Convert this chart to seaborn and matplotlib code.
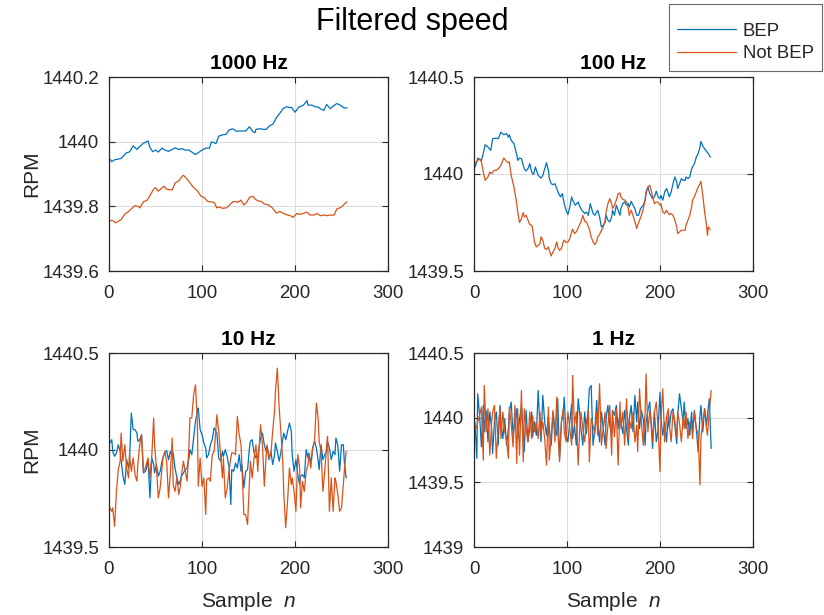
import matplotlib
matplotlib.use("Agg")
import matplotlib.pyplot as plt
from matplotlib.ticker import FuncFormatter, FixedLocator
from matplotlib.lines import Line2D
import seaborn as sns
import pandas as pd

# ---------------- data ----------------
series_labels = ["BEP", "Not BEP"]
panel_titles = ["1000 Hz", "100 Hz", "10 Hz", "1 Hz"]

# 1000 Hz
n_1000_bep = [1, 3, 6, 13, 19, 22, 26, 30, 33, 37, 42, 44, 47, 50, 53, 57, 61, 64, 68, 71,
              75, 79, 82, 86, 89, 93, 97, 100, 104, 108, 110, 113, 115, 118, 122, 126, 129, 133, 137, 140,
              144, 147, 151, 155, 157, 158, 162, 166, 169, 173, 176, 180, 184, 187, 191, 195, 196, 200, 204, 207,
              209, 213, 214, 218, 222, 225, 227, 231, 234, 238, 242, 245, 249, 253, 256]
v_1000_bep = [1439.946, 1439.938, 1439.944, 1439.948, 1439.966, 1439.968, 1439.987, 1439.976, 1439.985, 1439.995,
              1440.002, 1439.982, 1439.969, 1439.974, 1439.968, 1439.980, 1439.973, 1439.970, 1439.976, 1439.981,
              1439.976, 1439.978, 1439.974, 1439.974, 1439.968, 1439.960, 1439.968, 1439.974, 1439.980, 1439.980,
              1439.999, 1439.997, 1439.994, 1440.017, 1440.021, 1440.023, 1440.036, 1440.040, 1440.032, 1440.033,
              1440.033, 1440.033, 1440.046, 1440.030, 1440.028, 1440.038, 1440.040, 1440.038, 1440.038, 1440.050,
              1440.053, 1440.074, 1440.089, 1440.102, 1440.108, 1440.105, 1440.107, 1440.091, 1440.107, 1440.110,
              1440.113, 1440.127, 1440.113, 1440.113, 1440.108, 1440.107, 1440.102, 1440.097, 1440.115, 1440.102,
              1440.112, 1440.118, 1440.112, 1440.104, 1440.105]
n_1000_not = [1, 4, 7, 10, 13, 17, 21, 24, 28, 32, 33, 37, 41, 44, 48, 50, 53, 57, 59, 62,
              66, 68, 71, 75, 79, 80, 84, 88, 91, 95, 99, 102, 106, 109, 113, 116, 118, 122, 126, 129,
              133, 137, 138, 142, 145, 148, 151, 155, 157, 160, 164, 167, 171, 175, 178, 180, 184, 187, 191, 195,
              198, 202, 205, 209, 213, 216, 220, 224, 227, 231, 234, 238, 242, 245, 249, 253, 256]
v_1000_not = [1439.756, 1439.756, 1439.749, 1439.754, 1439.759, 1439.776, 1439.784, 1439.792, 1439.802, 1439.799,
              1439.795, 1439.814, 1439.819, 1439.833, 1439.853, 1439.858, 1439.847, 1439.857, 1439.862, 1439.853,
              1439.851, 1439.851, 1439.872, 1439.879, 1439.894, 1439.896, 1439.884, 1439.869, 1439.858, 1439.848,
              1439.831, 1439.828, 1439.815, 1439.814, 1439.812, 1439.795, 1439.798, 1439.794, 1439.795, 1439.802,
              1439.814, 1439.815, 1439.812, 1439.819, 1439.804, 1439.812, 1439.828, 1439.831, 1439.823, 1439.817,
              1439.815, 1439.807, 1439.805, 1439.797, 1439.787, 1439.779, 1439.784, 1439.779, 1439.774, 1439.771,
              1439.766, 1439.778, 1439.775, 1439.778, 1439.782, 1439.773, 1439.773, 1439.778, 1439.771, 1439.773,
              1439.771, 1439.773, 1439.773, 1439.792, 1439.796, 1439.807, 1439.814]

# 100 Hz
n_100_bep = [1, 3, 4, 6, 8, 10, 12, 15, 18, 20, 24, 26, 29, 32, 35, 37, 38, 40, 43, 46,
             47, 49, 51, 54, 56, 58, 60, 62, 64, 66, 69, 72, 74, 76, 78, 80, 81, 83, 85, 87,
             89, 91, 93, 95, 97, 99, 101, 103, 105, 106, 109, 112, 114, 116, 119, 121, 123, 125, 128, 130,
             133, 135, 137, 139, 141, 142, 144, 146, 148, 149, 151, 153, 155, 157, 158, 160, 162, 164, 166, 167,
             169, 171, 173, 175, 177, 179, 182, 184, 185, 187, 189, 191, 192, 194, 196, 198, 200, 201, 203, 205,
             207, 209, 210, 212, 214, 216, 218, 219, 221, 223, 225, 227, 228, 230, 232, 234, 235, 237, 239, 241,
             243, 244, 246, 248, 250, 252, 254]
v_100_bep = [1440.036, 1440.062, 1440.082, 1440.075, 1440.070, 1440.105, 1440.151, 1440.139, 1440.122, 1440.182,
             1440.185, 1440.182, 1440.216, 1440.202, 1440.208, 1440.190, 1440.202, 1440.173, 1440.156, 1440.099,
             1440.070, 1440.082, 1440.079, 1440.027, 1440.015, 1440.027, 1440.053, 1440.010, 1439.997, 1440.036,
             1439.993, 1439.979, 1439.993, 1440.027, 1440.058, 1440.019, 1439.976, 1439.950, 1439.945, 1439.950,
             1439.925, 1439.899, 1439.882, 1439.899, 1439.847, 1439.813, 1439.791, 1439.830, 1439.882, 1439.865,
             1439.839, 1439.856, 1439.830, 1439.813, 1439.796, 1439.804, 1439.787, 1439.847, 1439.796, 1439.787,
             1439.813, 1439.779, 1439.727, 1439.736, 1439.750, 1439.787, 1439.762, 1439.753, 1439.779, 1439.813,
             1439.787, 1439.839, 1439.813, 1439.787, 1439.822, 1439.847, 1439.856, 1439.839, 1439.847, 1439.830,
             1439.859, 1439.839, 1439.822, 1439.787, 1439.787, 1439.822, 1439.839, 1439.865, 1439.907, 1439.933,
             1439.899, 1439.882, 1439.873, 1439.882, 1439.911, 1439.882, 1439.873, 1439.890, 1439.865, 1439.907,
             1439.925, 1439.899, 1439.882, 1439.907, 1439.950, 1439.985, 1439.959, 1439.925, 1439.950, 1439.976,
             1439.967, 1439.967, 1439.985, 1439.976, 1439.985, 1440.027, 1440.036, 1440.053, 1440.087, 1440.105,
             1440.139, 1440.168, 1440.144, 1440.130, 1440.117, 1440.105, 1440.087]
n_100_not = [1, 3, 4, 6, 8, 10, 12, 15, 17, 19, 22, 24, 26, 29, 32, 35, 37, 38, 40, 43,
             46, 47, 49, 51, 53, 54, 56, 58, 60, 62, 63, 65, 67, 69, 71, 72, 74, 76, 78, 80,
             81, 83, 85, 87, 89, 90, 92, 94, 96, 97, 99, 101, 103, 105, 106, 108, 110, 112, 114, 115,
             117, 119, 121, 123, 124, 126, 128, 130, 132, 133, 135, 137, 139, 141, 142, 144, 146, 148, 149, 151,
             153, 155, 157, 158, 160, 162, 164, 166, 167, 169, 171, 173, 175, 176, 178, 180, 182, 184, 185, 187,
             189, 191, 192, 194, 196, 198, 200, 201, 203, 205, 207, 209, 210, 212, 214, 216, 218, 219, 221, 223,
             225, 227, 228, 230, 232, 234, 235, 237, 239, 241, 243, 244, 246, 248, 250, 251, 252, 254]
v_100_not = [1440.053, 1440.065, 1440.070, 1440.079, 1440.062, 1440.010, 1439.967, 1439.985, 1440.010, 1440.002,
             1440.019, 1440.019, 1440.027, 1440.045, 1440.082, 1440.065, 1440.058, 1440.062, 1439.993, 1439.933,
             1439.847, 1439.804, 1439.750, 1439.770, 1439.801, 1439.779, 1439.787, 1439.762, 1439.739, 1439.736,
             1439.719, 1439.650, 1439.624, 1439.633, 1439.642, 1439.676, 1439.659, 1439.616, 1439.611, 1439.624,
             1439.607, 1439.578, 1439.599, 1439.616, 1439.650, 1439.624, 1439.607, 1439.616, 1439.650, 1439.659,
             1439.647, 1439.650, 1439.667, 1439.702, 1439.715, 1439.693, 1439.702, 1439.722, 1439.744, 1439.753,
             1439.787, 1439.756, 1439.753, 1439.727, 1439.715, 1439.676, 1439.650, 1439.636, 1439.654, 1439.676,
             1439.688, 1439.710, 1439.727, 1439.762, 1439.804, 1439.847, 1439.873, 1439.847, 1439.822, 1439.839,
             1439.865, 1439.899, 1439.902, 1439.882, 1439.870, 1439.865, 1439.856, 1439.822, 1439.787, 1439.813,
             1439.787, 1439.753, 1439.719, 1439.736, 1439.762, 1439.787, 1439.822, 1439.865, 1439.899, 1439.933,
             1439.942, 1439.907, 1439.882, 1439.847, 1439.856, 1439.853, 1439.839, 1439.847, 1439.804, 1439.796,
             1439.813, 1439.796, 1439.791, 1439.796, 1439.787, 1439.762, 1439.727, 1439.693, 1439.702, 1439.710,
             1439.710, 1439.710, 1439.736, 1439.762, 1439.787, 1439.830, 1439.865, 1439.882, 1439.907, 1439.933,
             1439.950, 1439.962, 1439.890, 1439.804, 1439.736, 1439.684, 1439.727, 1439.715]

# 10 Hz
n_10 = [1, 3, 4, 6, 8, 10, 12, 13, 15, 17, 19, 21, 22, 24, 26, 28, 30, 31, 33, 35,
        37, 39, 40, 42, 44, 46, 48, 49, 51, 53, 55, 57, 58, 60, 62, 64, 66, 68, 69, 71,
        73, 75, 77, 78, 80, 82, 84, 86, 87, 89, 91, 93, 95, 96, 98, 100, 102, 104, 105, 107,
        109, 111, 113, 114, 116, 118, 120, 122, 123, 125, 127, 129, 131, 132, 134, 136, 138, 140, 142, 143,
        145, 147, 149, 151, 152, 154, 156, 158, 160, 161, 163, 165, 167, 169, 170, 172, 174, 176, 178, 179,
        181, 183, 185, 187, 188, 190, 192, 194, 196, 197, 199, 201, 203, 205, 206, 208, 210, 212, 214, 215,
        217, 219, 221, 223, 225, 226, 228, 230, 232, 234, 235, 237, 239, 241, 243, 244, 246, 248, 250, 252,
        253, 255]
v_10_bep = [1440.036, 1440.053, 1439.993, 1439.967, 1439.985, 1440.027, 1439.993, 1439.950, 1439.865, 1439.822,
            1439.950, 1439.907, 1439.942, 1440.190, 1440.105, 1440.105, 1440.087, 1440.045, 1440.053, 1440.079,
            1439.882, 1439.890, 1439.899, 1439.950, 1439.753, 1439.959, 1439.925, 1439.882, 1439.925, 1439.865,
            1439.890, 1439.942, 1439.959, 1439.985, 1439.997, 1439.950, 1439.993, 1439.967, 1439.985, 1439.907,
            1439.856, 1439.822, 1439.847, 1439.865, 1439.882, 1439.899, 1439.907, 1439.959, 1440.002, 1439.976,
            1440.062, 1440.147, 1440.199, 1440.216, 1440.105, 1440.079, 1440.036, 1440.010, 1439.959, 1439.976,
            1440.027, 1440.053, 1440.113, 1440.105, 1440.087, 1439.959, 1439.942, 1439.993, 1439.967, 1440.002,
            1439.967, 1439.916, 1439.719, 1439.899, 1439.890, 1439.933, 1439.907, 1439.976, 1439.890, 1439.925,
            1439.804, 1439.890, 1439.899, 1440.010, 1440.045, 1440.053, 1439.985, 1439.959, 1439.967, 1440.002,
            1440.062, 1440.087, 1440.027, 1439.993, 1440.019, 1439.950, 1439.993, 1439.925, 1439.976, 1440.036,
            1439.993, 1439.942, 1439.993, 1440.062, 1440.087, 1440.053, 1440.096, 1440.139, 1440.096, 1439.976,
            1439.890, 1439.950, 1439.873, 1439.822, 1439.865, 1439.873, 1439.856, 1440.002, 1439.959, 1439.985,
            1439.933, 1440.010, 1440.045, 1440.010, 1439.942, 1439.899, 1440.027, 1439.950, 1439.976, 1439.993,
            1440.045, 1440.010, 1439.950, 1439.993, 1439.976, 1440.062, 1440.027, 1439.890, 1440.027, 1440.027,
            1439.942, 1439.856]
v_10_not = [1439.702, 1439.684, 1439.702, 1439.607, 1439.787, 1439.899, 1439.942, 1440.087, 1439.942, 1440.027,
            1439.907, 1439.856, 1439.976, 1439.890, 1439.959, 1439.873, 1439.839, 1439.925, 1440.027, 1440.079,
            1439.890, 1439.907, 1439.925, 1439.959, 1439.856, 1439.967, 1440.165, 1440.027, 1439.907, 1439.753,
            1439.804, 1439.907, 1439.959, 1439.993, 1439.942, 1439.753, 1439.882, 1440.062, 1439.822, 1439.787,
            1439.856, 1439.770, 1439.822, 1439.873, 1439.942, 1439.890, 1439.839, 1440.027, 1440.165, 1440.165,
            1440.285, 1440.336, 1440.147, 1439.813, 1439.959, 1439.813, 1439.856, 1439.667, 1439.847, 1439.856,
            1439.839, 1439.976, 1439.993, 1440.045, 1440.182, 1440.096, 1439.976, 1439.856, 1439.959, 1439.753,
            1439.804, 1439.890, 1439.959, 1439.985, 1439.985, 1439.976, 1440.173, 1440.079, 1440.027, 1439.907,
            1439.667, 1439.667, 1439.616, 1439.839, 1439.942, 1439.856, 1439.959, 1440.027, 1439.890, 1439.976,
            1440.130, 1440.027, 1439.813, 1439.976, 1440.027, 1439.959, 1439.976, 1440.096, 1440.199, 1440.302,
            1440.422, 1440.216, 1440.079, 1439.925, 1439.770, 1439.599, 1439.736, 1439.907, 1439.822, 1439.856,
            1439.787, 1439.684, 1439.976, 1439.907, 1439.702, 1439.839, 1439.787, 1439.890, 1439.925, 1439.976,
            1439.907, 1440.010, 1440.045, 1440.242, 1440.156, 1440.045, 1439.993, 1439.787, 1439.890, 1440.027,
            1440.070, 1439.684, 1439.856, 1439.684, 1439.856, 1439.839, 1439.770, 1439.684, 1439.702, 1439.822,
            1439.890, 1439.993]

# 1 Hz
n_1 = [1, 3, 4, 6, 8, 10, 11, 13, 15, 17, 19, 20, 22, 24, 26, 28, 29, 31, 33, 35,
       37, 38, 40, 42, 44, 46, 47, 49, 51, 53, 54, 56, 58, 60, 62, 63, 65, 67, 69, 71,
       72, 74, 76, 78, 80, 81, 83, 85, 87, 89, 90, 92, 94, 96, 97, 99, 101, 103, 105, 106,
       108, 110, 112, 114, 115, 117, 119, 121, 123, 124, 126, 128, 130, 132, 133, 135, 137, 139, 141, 142,
       144, 146, 148, 149, 151, 153, 155, 157, 158, 160, 162, 164, 166, 167, 169, 171, 173, 175, 176, 178,
       180, 182, 184, 185, 187, 189, 191, 192, 194, 196, 198, 200, 201, 203, 205, 207, 209, 210, 212, 214,
       216, 218, 219, 221, 223, 225, 226, 228, 230, 232, 234, 235, 237, 239, 241, 243, 244, 246, 248, 250,
       251, 253, 255]
v_1_bep = [1439.967, 1439.685, 1440.185, 1440.018, 1439.774, 1440.095, 1439.890, 1440.056, 1439.813, 1440.044,
           1439.915, 1439.723, 1439.967, 1440.044, 1439.787, 1440.095, 1439.954, 1439.838, 1439.992, 1439.787,
           1439.915, 1440.044, 1440.121, 1439.864, 1439.967, 1440.069, 1439.838, 1439.992, 1440.082, 1439.890,
           1439.736, 1440.056, 1439.813, 1439.915, 1440.044, 1439.851, 1439.967, 1439.864, 1440.210, 1439.915,
           1439.813, 1440.172, 1439.967, 1439.864, 1440.018, 1439.915, 1439.787, 1440.044, 1439.915, 1439.864,
           1440.146, 1439.685, 1439.967, 1440.044, 1440.159, 1439.864, 1439.813, 1439.967, 1440.108, 1439.838,
           1439.941, 1439.787, 1440.146, 1440.005, 1439.915, 1439.787, 1440.044, 1439.877, 1440.095, 1440.223,
           1440.249, 1439.787, 1439.915, 1440.133, 1439.967, 1439.813, 1440.044, 1439.915, 1439.787, 1439.992,
           1440.095, 1439.941, 1439.864, 1440.056, 1440.018, 1440.095, 1439.915, 1440.044, 1439.967, 1439.877,
           1440.056, 1439.915, 1439.787, 1439.992, 1440.095, 1439.890, 1440.172, 1439.967, 1440.121, 1439.915,
           1440.056, 1439.992, 1439.787, 1439.967, 1440.056, 1440.121, 1439.890, 1439.762, 1440.044, 1439.813,
           1439.915, 1440.197, 1439.992, 1439.864, 1439.967, 1439.813, 1440.031, 1439.915, 1440.044, 1440.069,
           1439.941, 1439.800, 1440.018, 1440.185, 1440.069, 1439.967, 1440.121, 1439.915, 1439.992, 1439.864,
           1440.044, 1439.890, 1440.056, 1439.915, 1439.736, 1440.018, 1440.095, 1439.890, 1440.069, 1439.941,
           1440.018, 1440.146, 1439.762]
v_1_not = [1439.941, 1439.915, 1439.967, 1440.018, 1440.082, 1439.672, 1440.249, 1439.890, 1440.069, 1439.710,
           1439.967, 1440.044, 1440.095, 1439.685, 1439.915, 1440.082, 1439.838, 1440.044, 1439.890, 1439.826,
           1439.685, 1440.082, 1439.954, 1439.774, 1440.095, 1439.646, 1440.069, 1439.710, 1440.210, 1439.659,
           1440.069, 1439.915, 1439.813, 1440.044, 1439.838, 1440.018, 1439.890, 1439.967, 1439.838, 1440.044,
           1439.864, 1439.967, 1439.838, 1439.633, 1440.082, 1439.672, 1439.864, 1440.056, 1439.813, 1440.159,
           1439.915, 1439.659, 1439.967, 1440.069, 1439.890, 1439.813, 1440.044, 1439.915, 1439.787, 1440.326,
           1439.941, 1440.044, 1439.633, 1439.967, 1440.044, 1439.915, 1439.813, 1439.967, 1440.056, 1439.659,
           1439.992, 1439.941, 1439.877, 1440.044, 1439.864, 1440.262, 1439.787, 1439.915, 1440.044, 1439.762,
           1439.941, 1440.095, 1439.710, 1440.044, 1439.851, 1440.069, 1439.633, 1440.121, 1439.915, 1440.044,
           1439.787, 1440.146, 1439.838, 1439.992, 1439.915, 1440.044, 1439.813, 1439.941, 1439.736, 1440.223,
           1439.967, 1439.787, 1440.044, 1440.338, 1439.890, 1440.056, 1439.941, 1439.813, 1440.044, 1440.121,
           1439.915, 1439.582, 1439.992, 1440.223, 1439.813, 1440.005, 1440.069, 1439.941, 1439.813, 1440.044,
           1439.967, 1439.851, 1440.044, 1439.954, 1439.813, 1440.018, 1439.915, 1440.044, 1439.838, 1439.967,
           1439.941, 1439.838, 1440.044, 1439.915, 1439.877, 1439.480, 1439.838, 1439.967, 1440.069, 1439.915,
           1439.864, 1440.044, 1440.210]

x_ticks = [0, 100, 200, 300]
y_ticks = [[1439.6, 1439.8, 1440.0, 1440.2],
           [1439.5, 1440.0, 1440.5],
           [1439.5, 1440.0, 1440.5],
           [1439.0, 1439.5, 1440.0, 1440.5]]
y_limits = [(1439.6, 1440.2), (1439.5, 1440.5), (1439.5, 1440.5), (1439.0, 1440.5)]

panels = [
    (n_1000_bep, v_1000_bep, n_1000_not, v_1000_not),
    (n_100_bep, v_100_bep, n_100_not, v_100_not),
    (n_10, v_10_bep, n_10, v_10_not),
    (n_1, v_1_bep, n_1, v_1_not),
]

# ---------------- styling ----------------
sns.set_theme(style="white")
plt.rcParams["font.family"] = ["Liberation Sans", "DejaVu Sans"]
plt.rcParams["mathtext.fontset"] = "custom"
plt.rcParams["mathtext.rm"] = "Liberation Sans"
plt.rcParams["mathtext.it"] = "Liberation Sans:italic"

blue = "#0072BD"
orange = "#D95319"
text_col = "#262626"
palette = {"BEP": blue, "Not BEP": orange}

fig = plt.figure(figsize=(8.24, 6.15), dpi=100)

W, H = 824.0, 615.0
ax_w, ax_h = 279.0, 194.0
lefts = [109.0, 474.0]
tops = [77.0, 353.0]

for i, (nb, vb, nn, vn) in enumerate(panels):
    r, c = divmod(i, 2)
    ax = fig.add_axes([lefts[c] / W, 1 - (tops[r] + ax_h) / H, ax_w / W, ax_h / H])
    nb2, vb2 = zip(*zip(nb, vb))
    nn2, vn2 = zip(*zip(nn, vn))
    df = pd.concat([
        pd.DataFrame({"n": nb2, "rpm": vb2, "series": "BEP"}),
        pd.DataFrame({"n": nn2, "rpm": vn2, "series": "Not BEP"}),
    ])
    sns.lineplot(data=df, x="n", y="rpm", hue="series", palette=palette, ax=ax,
                 linewidth=0.9, legend=False, sort=True, estimator=None)
    ax.set_xlim(0, 300)
    ax.set_ylim(*y_limits[i])
    ax.xaxis.set_major_locator(FixedLocator(x_ticks))
    ax.yaxis.set_major_locator(FixedLocator(y_ticks[i]))
    ax.yaxis.set_major_formatter(FuncFormatter(lambda v, p: f"{v:g}"))
    ax.grid(True, color="#dcdcdc", linewidth=0.8)
    ax.set_axisbelow(True)
    for s in ax.spines.values():
        s.set_color(text_col)
        s.set_linewidth(0.9)
        s.set_visible(True)
    ax.tick_params(direction="in", length=4, width=0.8, colors=text_col,
                   labelsize=13.4, bottom=True, left=True, top=True, right=True)
    ax.tick_params(axis="x", pad=10)
    ax.tick_params(axis="y", pad=7)
    ax.set_title(panel_titles[i], fontsize=15, fontweight="bold", color="black", pad=6)
    ax.set_xlabel("Sample  $\\it{n}$" if r == 1 else "", fontsize=15, color=text_col, labelpad=9)
    ax.set_ylabel("RPM" if c == 0 else "", fontsize=15, color=text_col, labelpad=1)

fig.suptitle("Filtered speed", fontsize=22, x=0.5, y=0.988, color="black")

handles = [Line2D([], [], color=blue, linewidth=0.9),
           Line2D([], [], color=orange, linewidth=0.9)]
leg = fig.legend(handles, series_labels, loc="upper right", bbox_to_anchor=(0.998, 0.994),
                 fontsize=13.4, frameon=True, fancybox=False, handlelength=3.2,
                 borderpad=0.45, labelspacing=0.3, handletextpad=0.35, borderaxespad=0.0,
                 title=" ", title_fontsize=4)
leg.get_frame().set_edgecolor("#444444")
leg.get_frame().set_linewidth(0.8)

fig.savefig("out.png", dpi=100)
